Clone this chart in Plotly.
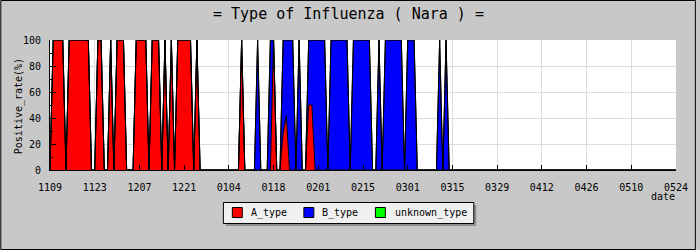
import pandas as pd
import plotly.graph_objects as go

# ---------------- data ----------------
start_date = "2010-11-09"
n_days = 197
tick_labels = ["1109", "1123", "1207", "1221", "0104", "0118", "0201", "0215",
               "0301", "0315", "0329", "0412", "0426", "0510", "0524"]

A_type = (
    [0, 100, 100, 100, 100, 0, 100, 100, 100, 100, 100, 100, 100, 0] +
    [0, 100, 100, 0, 0, 100, 0, 100, 100, 100, 0, 0, 0, 100] +
    [100, 100, 100, 0, 100, 100, 100, 0, 100, 0, 100, 0, 100, 100] +
    [100, 100, 100, 0, 100, 0, 0, 0, 0, 0, 0, 0, 0, 0] +
    [0, 0, 0, 0, 100, 0, 0, 0, 0, 0, 0, 0, 0, 0] +
    [100, 0, 0, 28, 42, 0, 0, 0, 0, 0, 0, 50, 50, 0] +
    [0] * 14 + [0] * 14 + [0] * 14 + [0] * 14 + [0] * 14 + [0] * 14 + [0] * 14 + [0] * 14 + [0]
)
B_type = (
    [0] * 14 + [0] * 14 + [0] * 14 + [0] * 14 +
    [0, 0, 0, 0, 0, 0, 0, 0, 0, 100, 0, 0, 0, 100] +
    [0, 0, 0, 72, 58, 100, 100, 0, 100, 0, 0, 50, 50, 100] +
    [100, 100, 100, 0, 100, 100, 100, 100, 100, 100, 0, 100, 100, 100] +
    [100, 100, 100, 0, 0, 100, 0, 100, 100, 100, 100, 100, 100, 0] +
    [100, 100, 100, 0, 0, 0, 0, 0, 0, 0, 100, 0, 100, 0] +
    [0] * 14 + [0] * 14 + [0] * 14 + [0] * 14 + [0] * 14 + [0]
)
unknown_type = [0] * n_days

series_names = ["A_type", "B_type", "unknown_type"]
series_colors = ["#ff0000", "#0000ff", "#00ff00"]

dates = pd.date_range(start_date, periods=n_days)
tick_dates = dates[::14]

# ---------------- figure ----------------
W, H = 700, 250
L, R, T, B = 50, 20, 40, 80
PW, PH = W - L - R, H - T - B
MONO = "DejaVu Sans Mono"


def px(xp):
    return (xp - L) / PW


def py(yp):
    return (T + PH - yp) / PH


fig = go.Figure()
for name, vals, col in zip(series_names, [A_type, B_type, unknown_type], series_colors):
    fig.add_trace(go.Scatter(
        x=dates, y=vals, name=name, mode="lines", stackgroup="one",
        line=dict(color="black", width=1), fillcolor=col, showlegend=False,
    ))

fig.update_layout(
    width=W, height=H,
    margin=dict(l=L, r=R, t=T, b=B),
    paper_bgcolor="#c8c8c8",
    plot_bgcolor="#ffffff",
    showlegend=False,
    font=dict(family=MONO, size=10, color="black"),
)
fig.update_xaxes(
    type="date", range=[dates[0], dates[-1]],
    tickvals=tick_dates, ticktext=tick_labels,
    ticks="inside", ticklen=5, tickcolor="black", tickwidth=1,
    showline=True, linecolor="black", linewidth=1,
    showgrid=True, gridcolor="#dcdcdc", gridwidth=1, zeroline=False,
    tickfont=dict(family=MONO, size=10, color="black"),
    ticklabelstandoff=8,
)
fig.update_yaxes(
    range=[0, 100], tickvals=[0, 20, 40, 60, 80, 100],
    ticks="inside", ticklen=6, tickcolor="black", tickwidth=1,
    minor=dict(dtick=10, ticks="inside", ticklen=3, tickcolor="black", showgrid=False),
    showline=True, linecolor="black", linewidth=1,
    showgrid=True, gridcolor="#dcdcdc", gridwidth=1, zeroline=False,
    tickfont=dict(family=MONO, size=10, color="black"),
    ticklabelstandoff=6,
)

annotations = [
    dict(text="= Type of Influenza ( Nara ) =", x=px(350), y=py(14), xref="paper", yref="paper",
         showarrow=False, xanchor="center", yanchor="middle",
         font=dict(family=MONO, size=15, color="black")),
    dict(text="Positive_rate(%)", x=px(19), y=py(106), xref="paper", yref="paper",
         showarrow=False, xanchor="center", yanchor="middle", textangle=-90,
         font=dict(family=MONO, size=10, color="black")),
    dict(text="date", x=px(681), y=py(196), xref="paper", yref="paper",
         showarrow=False, xanchor="right", yanchor="middle",
         font=dict(family=MONO, size=10, color="black")),
]

shapes = [
    # outer border
    dict(type="rect", xref="paper", yref="paper", x0=px(0.5), x1=px(699.5), y0=py(0.5), y1=py(249.5),
         line=dict(color="black", width=1), fillcolor="rgba(0,0,0,0)", layer="above"),
    # legend shadow + box
    dict(type="rect", xref="paper", yref="paper", x0=px(227), x1=px(479), y0=py(205), y1=py(226),
         line=dict(width=0), fillcolor="#909090", layer="above"),
    dict(type="rect", xref="paper", yref="paper", x0=px(224.5), x1=px(476.5), y0=py(202.5), y1=py(223.5),
         line=dict(color="black", width=1), fillcolor="#f0f0f0", layer="above"),
]
legend_sq_x = [233, 305, 377]
legend_txt_x = [250, 322, 395]
for name, col, sx, tx in zip(series_names, series_colors, legend_sq_x, legend_txt_x):
    shapes.append(dict(type="rect", xref="paper", yref="paper", x0=px(sx + 0.5), x1=px(sx + 10.5),
                       y0=py(207.5), y1=py(217.5), line=dict(color="black", width=1),
                       fillcolor=col, layer="above"))
    annotations.append(dict(text=name, x=px(tx), y=py(212.5), xref="paper", yref="paper",
                            showarrow=False, xanchor="left", yanchor="middle",
                            font=dict(family=MONO, size=10, color="black")))

fig.update_layout(annotations=annotations, shapes=shapes)
fig.write_html("out.html")
